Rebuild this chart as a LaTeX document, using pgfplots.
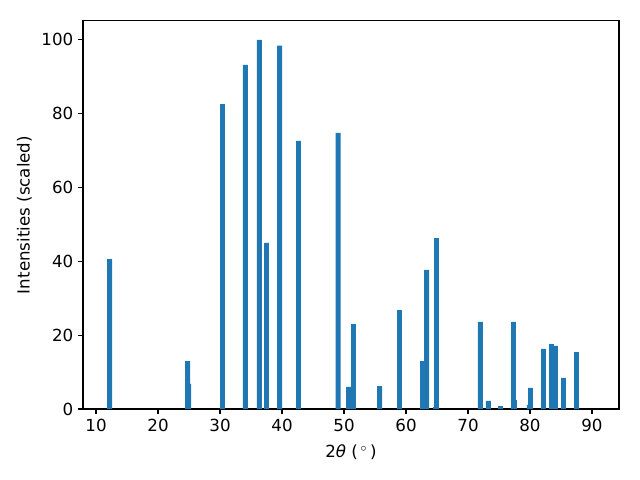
\documentclass[border=0pt]{standalone}
\usepackage{fontspec}
\setmainfont{DejaVu Sans}
\usepackage{pgfplots}
\pgfplotsset{compat=1.18}
\definecolor{c0}{HTML}{1F77B4}
\begin{document}
\begin{tikzpicture}
\path[use as bounding box] (0,0) rectangle (460.8pt,345.6pt);
\begin{axis}[
  at={(59.76pt,51.12pt)}, anchor=south west,
  scale only axis, width=385.9pt, height=279.4pt,
  xmin=7.9, xmax=94.35, ymin=0, ymax=105.1,
  xtick={10,20,...,90}, ytick={0,20,...,100},
  xtick pos=left, ytick pos=left, tick align=outside,
  major tick length=3.5pt,
  every tick/.style={black, line width=0.8pt},
  axis line style={line width=0.8pt},
  /pgf/number format/assume math mode=true,
  tick label style={font=\fontsize{12}{14}\selectfont},
  label style={font=\fontsize{12}{14}\selectfont},
  xlabel style={yshift=-3pt},
  xlabel={2\textit{θ} ($\,^\circ\,$)},
  ylabel={Intensities (scaled)},
  ybar, bar width=0.8,
]
\addplot[draw=none, fill=c0] coordinates {
  (12.18,40.6) (24.76,13.0) (24.95,6.8) (30.4,82.6) (34.08,93.2)
  (36.34,100.0) (37.5,45.0) (39.6,98.4) (42.66,72.6) (49.06,74.8)
  (50.73,6.0) (51.53,23.0) (55.73,6.2) (58.95,26.8) (62.66,13.0)
  (63.31,37.7) (64.76,0.5) (64.92,46.3) (72.0,23.6) (73.3,2.2)
  (75.24,0.8) (77.34,23.6) (77.5,2.4) (79.9,1.1) (80.08,5.7)
  (82.18,16.3) (83.47,17.6) (84.1,17.1) (85.4,8.4) (87.5,15.4)
};
\end{axis}
\end{tikzpicture}
\end{document}
